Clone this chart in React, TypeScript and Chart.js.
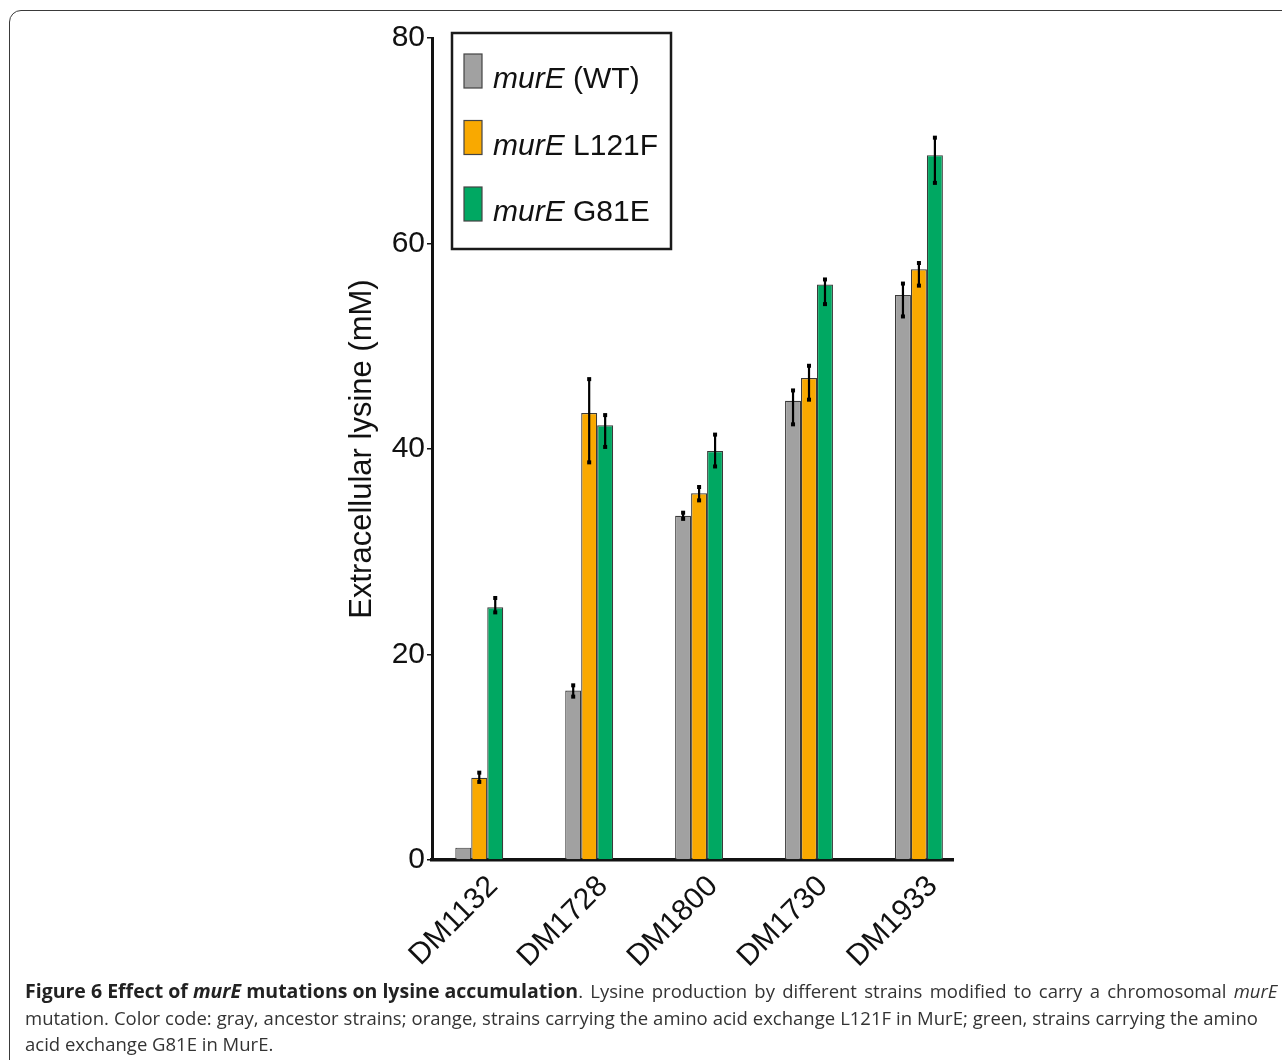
import React, { useEffect, useRef } from 'react';
import { Chart, registerables } from 'chart.js';

Chart.register(...registerables);

const categories = ['DM1132', 'DM1728', 'DM1800', 'DM1730', 'DM1933'];
const seriesNames = ['(WT)', 'L121F', 'G81E'];
const seriesColors = ['#a1a1a1', '#f9a900', '#00a862'];
const yTicks = [0, 20, 40, 60, 80];

const wtValues = [1.2, 16.5, 33.5, 44.7, 55.0];
const wtLow = [null, 15.9, 33.2, 42.4, 52.9];
const wtHigh = [null, 17.0, 33.8, 45.7, 56.1];

const l121fValues = [8.0, 43.5, 35.7, 46.9, 57.5];
const l121fLow = [7.6, 38.7, 35.0, 44.8, 55.9];
const l121fHigh = [8.5, 46.8, 36.3, 48.1, 58.1];

const g81eValues = [24.6, 42.3, 39.8, 56.0, 68.6];
const g81eLow = [24.1, 40.2, 38.3, 54.1, 65.9];
const g81eHigh = [25.5, 43.3, 41.4, 56.5, 70.3];

const FONT = '"Liberation Sans", Arial, Helvetica, sans-serif';

const errorBarPlugin = {
  id: 'errorBars',
  afterDatasetsDraw(chart: any) {
    const ctx = chart.ctx;
    const yScale = chart.scales.y;
    chart.data.datasets.forEach((ds: any, d: number) => {
      const meta = chart.getDatasetMeta(d);
      meta.data.forEach((el: any, i: number) => {
        const lo = ds.errLow[i];
        const hi = ds.errHigh[i];
        if (lo == null || hi == null) return;
        const x = el.x;
        const yLo = yScale.getPixelForValue(lo);
        const yHi = yScale.getPixelForValue(hi);
        ctx.save();
        ctx.strokeStyle = '#000';
        ctx.fillStyle = '#000';
        ctx.lineWidth = 2.2;
        ctx.beginPath();
        ctx.moveTo(x, yLo);
        ctx.lineTo(x, yHi);
        ctx.stroke();
        ctx.fillRect(x - 2, yLo - 2, 4, 4);
        ctx.fillRect(x - 2, yHi - 2, 4, 4);
        ctx.restore();
      });
    });
  },
};

const legendPlugin = {
  id: 'customLegend',
  afterDraw(chart: any) {
    const ctx = chart.ctx;
    const area = chart.chartArea;
    const bx = area.left + 20;
    const by = area.top - 5;
    const bw = 219;
    const bh = 216;
    ctx.save();
    ctx.fillStyle = '#fff';
    ctx.fillRect(bx, by, bw, bh);
    ctx.strokeStyle = '#1a1a1a';
    ctx.lineWidth = 2.5;
    ctx.strokeRect(bx, by, bw, bh);
    chart.data.datasets.forEach((ds: any, i: number) => {
      const sx = bx + 12;
      const sy = by + 21 + i * 66.5;
      ctx.fillStyle = ds.backgroundColor;
      ctx.fillRect(sx, sy, 18, 34);
      ctx.strokeStyle = '#444';
      ctx.lineWidth = 1.2;
      ctx.strokeRect(sx, sy, 18, 34);
      ctx.fillStyle = '#111';
      ctx.textBaseline = 'alphabetic';
      ctx.textAlign = 'left';
      const tx = bx + 41;
      const ty = sy + 34;
      ctx.font = `italic 30px ${FONT}`;
      ctx.fillText('murE', tx, ty);
      const w = ctx.measureText('murE ').width;
      ctx.font = `30px ${FONT}`;
      ctx.fillText(ds.label, tx + w, ty);
    });
    ctx.restore();
  },
};

function makeData(values: number[]) {
  return categories.map((_, i) => ({ x: i, y: values[i] }));
}

export default function App() {
  const canvasRef = useRef<HTMLCanvasElement | null>(null);

  useEffect(() => {
    const canvas = canvasRef.current;
    if (!canvas) return;
    const chart = new Chart(canvas, {
      type: 'bar',
      data: {
        datasets: [
          { label: seriesNames[0], data: makeData(wtValues), errLow: wtLow, errHigh: wtHigh },
          { label: seriesNames[1], data: makeData(l121fValues), errLow: l121fLow, errHigh: l121fHigh },
          { label: seriesNames[2], data: makeData(g81eValues), errLow: g81eLow, errHigh: g81eHigh },
        ].map((ds: any, i: number) => ({
          ...ds,
          backgroundColor: seriesColors[i],
          borderColor: '#3a3a3a',
          borderWidth: 1.2,
          borderSkipped: 'bottom',
          categoryPercentage: 0.436,
          barPercentage: 1.0,
        })),
      } as any,
      options: {
        responsive: false,
        animation: false,
        devicePixelRatio: 1,
        layout: { padding: { left: 340, top: 38, right: 329, bottom: 80 } },
        plugins: {
          legend: { display: false },
          tooltip: { enabled: false },
        },
        scales: {
          x: {
            type: 'linear',
            offset: false,
            min: -0.43,
            max: 4.31,
            bounds: 'data',
            afterBuildTicks: (s: any) => {
              s.ticks = categories.map((_, i) => ({ value: i }));
            },
            afterFit: (s: any) => {
              s.height = 120;
            },
            ticks: {
              autoSkip: false,
              minRotation: 45,
              maxRotation: 45,
              labelOffset: 14,
              padding: 9,
              color: '#111',
              font: { family: FONT, size: 30 },
              callback: (v: any) => categories[v] ?? '',
            },
            grid: { display: false, drawTicks: false, offset: false },
            border: { display: true, width: 3.5, color: '#111' },
          },
          y: {
            min: 0,
            max: 80,
            afterBuildTicks: (s: any) => {
              s.ticks = yTicks.map((v) => ({ value: v }));
            },
            afterFit: (s: any) => {
              s.width = 92;
            },
            ticks: {
              padding: 2,
              color: '#111',
              font: { family: FONT, size: 30 },
            },
            grid: { drawOnChartArea: false, drawTicks: true, tickLength: 5, color: '#111', lineWidth: 1.5 },
            border: { display: true, width: 3, color: '#111' },
            title: {
              display: true,
              text: 'Extracellular lysine (mM)',
              color: '#111',
              font: { family: FONT, size: 31 },
              padding: 4,
            },
          },
        },
      } as any,
      plugins: [errorBarPlugin, legendPlugin],
    });
    return () => chart.destroy();
  }, []);

  const capFont = '"Open Sans", "Noto Sans", sans-serif';
  return (
    <div style={{ position: 'fixed', left: 0, top: 0, width: 1282, height: 1060, overflow: 'hidden', background: '#fff' }}>
      <div
        style={{
          position: 'absolute',
          left: 9,
          top: 10,
          width: 1300,
          height: 1100,
          border: '1.5px solid #3a3a3a',
          borderRadius: 12,
          boxSizing: 'border-box',
        }}
      />
      <canvas ref={canvasRef} width={1282} height={1060} style={{ position: 'absolute', left: 0, top: 0, width: 1282, height: 1060 }} />
      <div
        style={{
          position: 'absolute',
          left: 25,
          top: 978,
          fontFamily: capFont,
          fontSize: 18.5,
          lineHeight: '26.5px',
          color: '#333',
          whiteSpace: 'nowrap',
        }}
      >
        <div>
          <b style={{ color: '#222', fontSize: 19.5 }}>
            Figure 6 Effect of <i>murE</i> mutations on lysine accumulation
          </b>
          <span style={{ wordSpacing: 2.5 }}>
            . Lysine production by different strains modified to carry a chromosomal <i>murE</i>
          </span>
        </div>
        <div style={{ wordSpacing: 0.2 }}>
          mutation. Color code: gray, ancestor strains; orange, strains carrying the amino acid exchange L121F in MurE; green, strains carrying the amino
        </div>
        <div>acid exchange G81E in MurE.</div>
      </div>
    </div>
  );
}
